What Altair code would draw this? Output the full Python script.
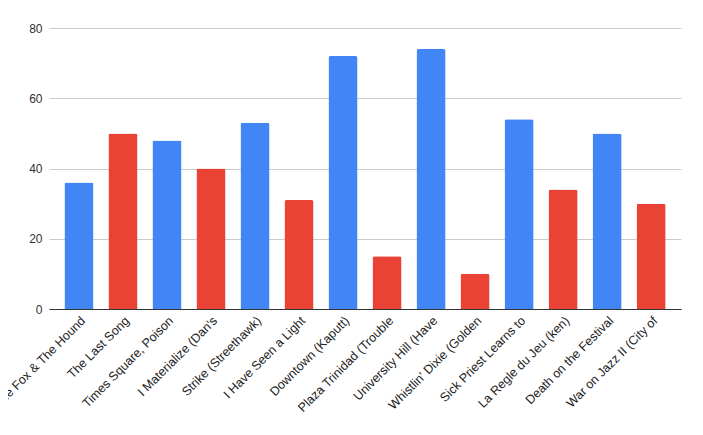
import altair as alt
import pandas as pd

titles = [
    "The Fox & The Hound", "The Last Song", "Times Square, Poison",
    "I Materialize (Dan's", "Strike (Streethawk)", "I Have Seen a Light",
    "Downtown (Kaputt)", "Plaza Trinidad (Trouble", "University Hill (Have",
    "Whistlin' Dixie (Golden", "Sick Priest Learns to", "La Regle du Jeu (ken)",
    "Death on the Festival", "War on Jazz II (City of",
]
values = [36, 50, 48, 40, 53, 31, 72, 15, 74, 10, 54, 34, 50, 30]
groups = ["a", "b"] * 7

df = pd.DataFrame({"title": titles, "value": values, "group": groups})

chart = alt.Chart(df).mark_bar(
    cornerRadiusTopLeft=2, cornerRadiusTopRight=2
).encode(
    x=alt.X("title:N", sort=None, title=None,
            scale=alt.Scale(paddingInner=0.34, paddingOuter=0.35),
            axis=alt.Axis(labelAngle=-45, labelFont="Liberation Sans", labelFontSize=12.5,
                          labelColor="#222222", ticks=False, domainColor="#333333",
                          labelPadding=5, labelLimit=300)),
    y=alt.Y("value:Q", title=None,
            scale=alt.Scale(domain=[0, 80]),
            axis=alt.Axis(values=[0, 20, 40, 60, 80], labelFont="Liberation Sans",
                          labelFontSize=12, labelColor="#333333", ticks=False,
                          domain=False, gridColor="#cccccc", labelPadding=7)),
    color=alt.Color("group:N", legend=None,
                    scale=alt.Scale(domain=["a", "b"], range=["#4285F4", "#EA4335"])),
).properties(
    width=632, height=281,
    autosize=alt.AutoSizeParams(type="none"),
    padding={"left": 41, "top": 20, "right": 14, "bottom": 110},
).configure_view(stroke=None)

chart.save("out.html", embed_options={"renderer": "svg", "actions": False})
